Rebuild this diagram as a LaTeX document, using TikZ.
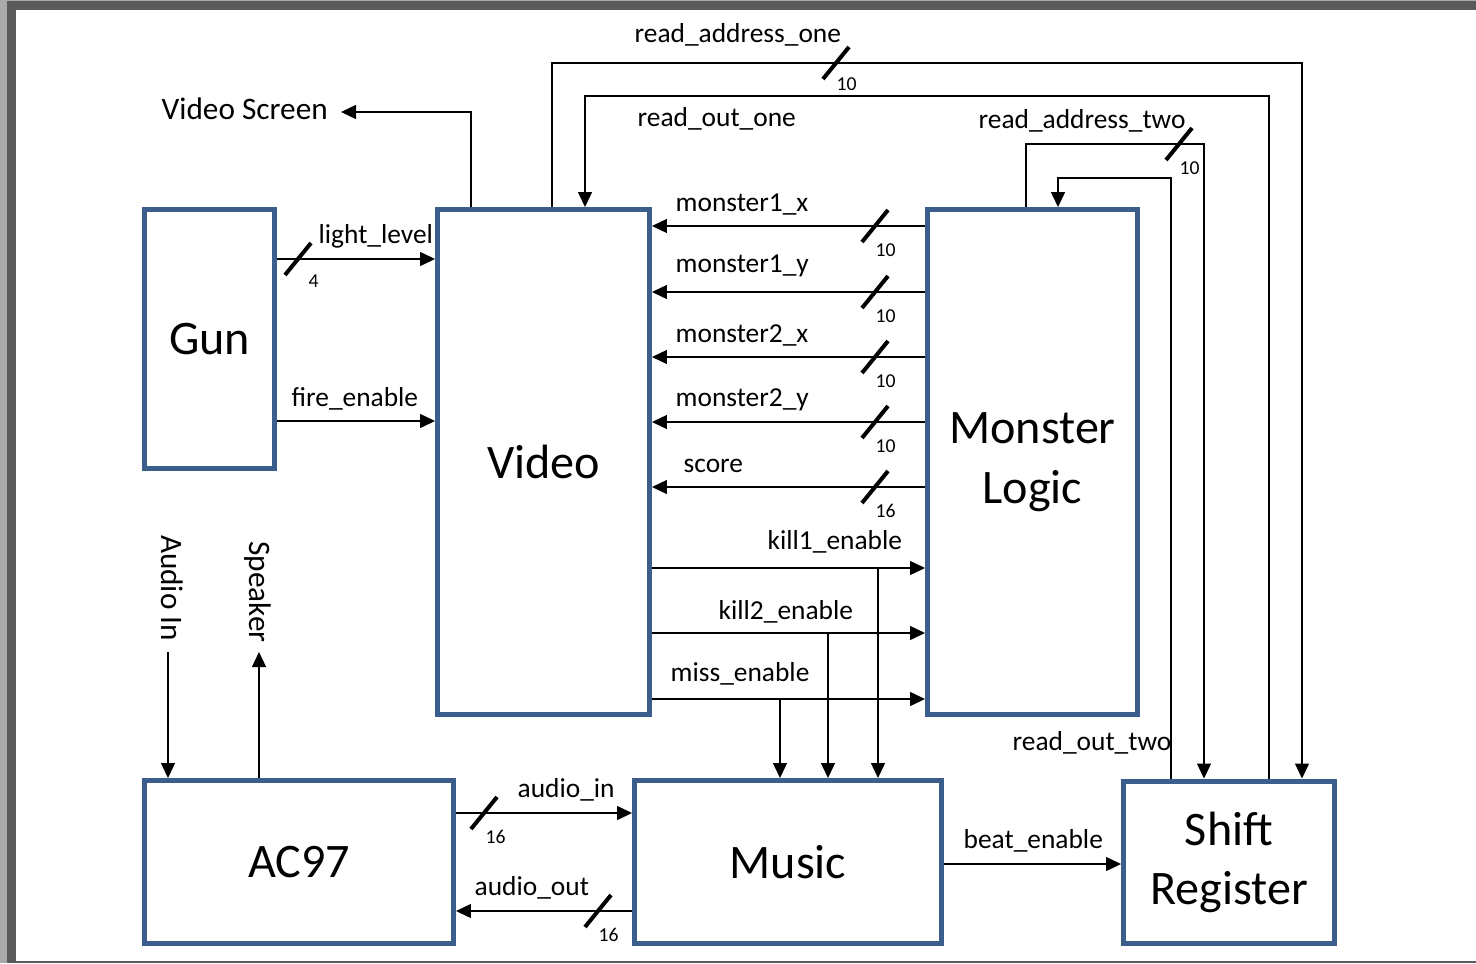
\documentclass[tikz,border=0pt]{standalone}
\usepackage{fontspec}
\setmainfont{Carlito}
\usetikzlibrary{arrows.meta}

\definecolor{blockblue}{RGB}{60,94,140}
\definecolor{framedark}{RGB}{90,90,90}
\definecolor{framelight}{RGB}{170,170,170}

\newcommand{\busslash}[2]{\draw[slashmark] (#1-13,#2+16) -- (#1+13,#2-16);}

\begin{document}
\begin{tikzpicture}[x=0.02cm,y=-0.02cm,>={Triangle[length=0.3cm,width=0.28cm]},
  line width=0.026cm,
  block/.style={draw=blockblue,line width=0.1cm,align=center,inner sep=0pt,
    font=\fontsize{27.4}{34}\selectfont},
  siglabel/.style={inner sep=0pt,anchor=base west,font=\fontsize{15.6}{18}\selectfont},
  biglabel/.style={inner sep=0pt,font=\fontsize{17.8}{20}\selectfont},
  bitnum/.style={inner sep=0pt,anchor=north west,font=\fontsize{11.2}{13}\selectfont},
  slashmark/.style={line width=0.08cm}]

% Page frame
\fill[framelight] (0,0) rectangle (1476,963);
\fill[framedark] (7,1) rectangle (1476,963);
\fill[white] (16,10) rectangle (1476,961);
\useasboundingbox (0,0) rectangle (1476,963);

% Blocks
\node[block,minimum width=2.60cm,minimum height=5.18cm] (gun) at (209.5,339) {Gun};
\node[block,minimum width=4.24cm,minimum height=10.10cm] (video) at (543.5,462) {Video};
\node[block,minimum width=4.20cm,minimum height=10.10cm] (monster) at (1032.5,462) {Monster\\Logic};
\node[block,minimum width=6.18cm,minimum height=3.26cm] (ac97) at (299,862) {AC97};
\node[block,minimum width=6.14cm,minimum height=3.26cm] (music) at (788,862) {Music};
\node[block,minimum width=4.22cm,minimum height=3.26cm] (shift) at (1229,862.5) {Shift\\Register};

% Gun to Video
\draw[->] (gun.east |- 0,259) -- (video.west |- 0,259);
\busslash{298}{259}
\node[siglabel] (lightlevel) at (318,243) {light\_level};
\node[bitnum] (lightbits) at (308,274) {4};

\draw[->] (gun.east |- 0,421) -- (video.west |- 0,421);
\node[siglabel] (fireenable) at (291,406) {fire\_enable};

% Video screen output
\node[biglabel,anchor=base west] (screen) at (161,119) {Video Screen};
\coordinate (screentip) at (341,112);
\draw[->] (video.north -| 471,0) |- (screentip);

% Shift register reads
\draw[->] (video.north -| 552,0) -- (552,63) -| (shift.north -| 1302,0);
\busslash{836}{63}
\node[siglabel] (raddrone) at (634,43) {read\_address\_one};
\node[bitnum] (raddronebits) at (836,77) {10};

\draw[->] (shift.north -| 1269,0) -- (1269,96) -| (video.north -| 585,0);
\node[siglabel] (routone) at (637,126) {read\_out\_one};

\draw[->] (monster.north -| 1026,0) -- (1026,144) -| (shift.north -| 1204,0);
\busslash{1179}{144}
\node[siglabel] (raddrtwo) at (978,129) {read\_address\_two};
\node[bitnum] (raddrtwobits) at (1179,161) {10};

\draw[->] (shift.north -| 1171,0) -- (1171,178) -| (monster.north -| 1058,0);
\node[siglabel] (routtwo) at (1012,750) {read\_out\_two};

% Monster positions and score
\draw[->] (monster.west |- 0,226) -- (video.east |- 0,226);
\busslash{875}{226}
\node[siglabel] (mone) at (675,211) {monster1\_x};
\node[bitnum] (monebits) at (875,243) {10};

\draw[->] (monster.west |- 0,292) -- (video.east |- 0,292);
\busslash{875}{292}
\node[siglabel] (monetwo) at (675,272) {monster1\_y};
\node[bitnum] (monetwobits) at (875,309) {10};

\draw[->] (monster.west |- 0,357) -- (video.east |- 0,357);
\busslash{875}{357}
\node[siglabel] (mtwo) at (675,342) {monster2\_x};
\node[bitnum] (mtwobits) at (875,374) {10};

\draw[->] (monster.west |- 0,422) -- (video.east |- 0,422);
\busslash{875}{422}
\node[siglabel] (mtwotwo) at (675,406) {monster2\_y};
\node[bitnum] (mtwotwobits) at (875,439) {10};

\draw[->] (monster.west |- 0,487) -- (video.east |- 0,487);
\busslash{875}{487}
\node[siglabel] (score) at (683,472) {score};
\node[bitnum] (scorebits) at (875,504) {16};

% Enables to Monster Logic and Music
\draw[->] (video.east |- 0,568) -- (monster.west |- 0,568);
\node[siglabel] (killone) at (767,549) {kill1\_enable};
\coordinate (killonetap) at (878,568);
\draw[->] (killonetap) -- (music.north -| killonetap);

\draw[->] (video.east |- 0,633) -- (monster.west |- 0,633);
\node[siglabel] (killtwo) at (718,619) {kill2\_enable};
\coordinate (killtwotap) at (828,633);
\draw[->] (killtwotap) -- (music.north -| killtwotap);

\draw[->] (video.east |- 0,699) -- (monster.west |- 0,699);
\node[siglabel] (miss) at (670,681) {miss\_enable};
\coordinate (misstap) at (780,699);
\draw[->] (misstap) -- (music.north -| misstap);

% Audio
\coordinate (audiotop) at (168,652);
\draw[->] (audiotop) -- (ac97.north -| audiotop);
\node[biglabel,rotate=-90] (audioin) at (172,588) {Audio In};
\coordinate (speakertip) at (259,652);
\draw[->] (ac97.north -| speakertip) -- (speakertip);
\node[biglabel,rotate=-90] (speaker) at (258,592) {Speaker};

\draw[->] (ac97.east |- 0,813) -- (music.west |- 0,813);
\busslash{484}{813}
\node[siglabel] (audioinsig) at (517,797) {audio\_in};
\node[bitnum] (audioinbits) at (485,830) {16};

\draw[->] (music.west |- 0,911) -- (ac97.east |- 0,911);
\busslash{598}{911}
\node[siglabel] (audioout) at (474,895) {audio\_out};
\node[bitnum] (audiooutbits) at (598,928) {16};

% Beat
\draw[->] (music.east |- 0,864) -- (shift.west |- 0,864);
\node[siglabel] (beat) at (963,848) {beat\_enable};

\end{tikzpicture}
\end{document}
